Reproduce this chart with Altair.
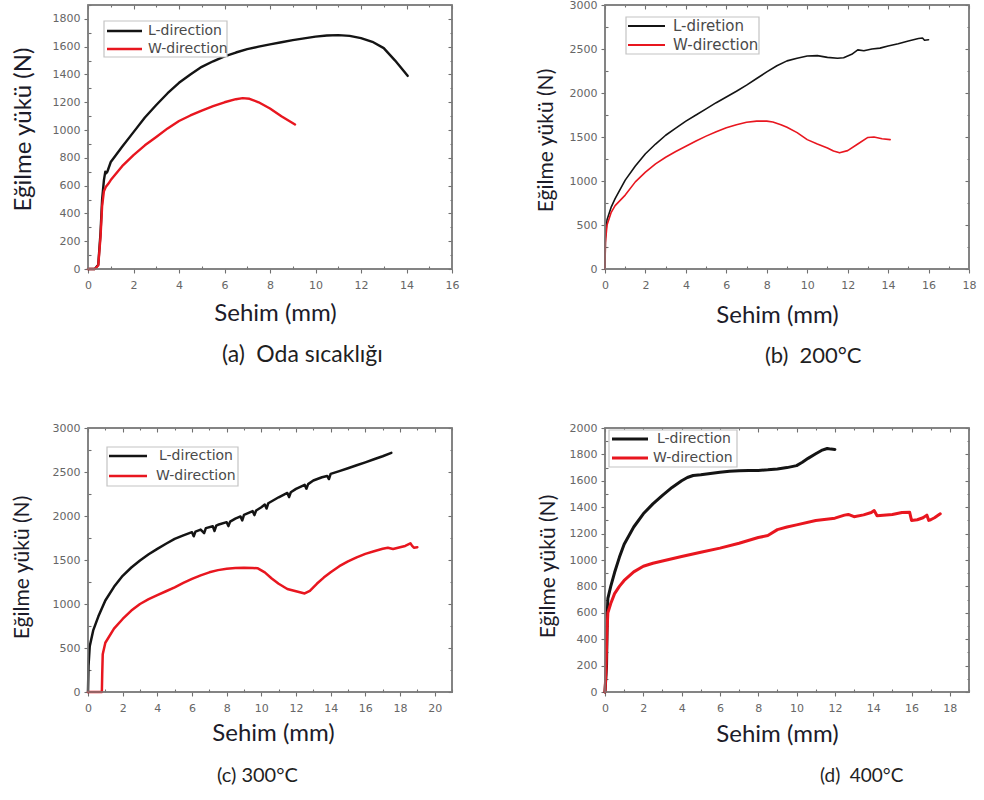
import altair as alt
import pandas as pd

# ---------------- data ----------------
# (a) Oda sıcaklığı
a_L_x = [0, 0.3, 0.45, 0.55, 0.62, 0.7, 0.76, 0.8, 0.85, 1.0, 1.5, 2, 2.5, 3, 3.5, 4, 4.5, 5, 5.5, 6,
         6.5, 7, 7.5, 8, 8.5, 9, 9.5, 10, 10.5, 11, 11.5, 12, 12.5, 13, 13.5, 14.05]
a_L_y = [0, 0, 30, 260, 500, 640, 700, 690, 700, 770, 880, 985, 1090, 1180, 1265, 1340, 1400, 1455, 1495, 1530,
         1558, 1582, 1600, 1617, 1632, 1647, 1660, 1672, 1680, 1683, 1678, 1662, 1635, 1590, 1500, 1390]
a_W_x = [0, 0.3, 0.45, 0.55, 0.62, 0.7, 0.78, 0.9, 1.0, 1.5, 2, 2.5, 3, 3.5, 4, 4.5, 5, 5.5, 6, 6.5,
         6.8, 7.1, 7.5, 8, 8.5, 9.1]
a_W_y = [0, 0, 25, 230, 450, 560, 590, 615, 640, 740, 820, 890, 950, 1012, 1065, 1105, 1140, 1172, 1200, 1222,
         1230, 1225, 1200, 1155, 1100, 1040]

# (b) 200°C
b_L_x = [0, 0.02, 0.1, 0.3, 0.5, 1, 1.5, 2, 2.5, 3, 3.5, 4, 4.5, 5, 5.5, 6, 6.5, 7, 7.5, 8,
         8.5, 9, 9.5, 10, 10.5, 11, 11.5, 11.8, 12.2, 12.5, 12.8, 13.2, 13.6, 14, 14.5, 15, 15.5, 15.7, 15.8, 16.0]
b_L_y = [0, 350, 560, 700, 800, 1010, 1170, 1310, 1420, 1520, 1600, 1680, 1750, 1820, 1890, 1955, 2020, 2090, 2165, 2240,
         2310, 2365, 2395, 2420, 2425, 2405, 2395, 2400, 2440, 2490, 2480, 2500, 2510, 2535, 2560, 2590, 2620, 2625, 2600, 2605]
b_W_x = [0, 0.02, 0.1, 0.3, 0.5, 1, 1.5, 2, 2.5, 3, 3.5, 4, 4.5, 5, 5.5, 6, 6.5, 7, 7.5, 8,
         8.3, 8.7, 9, 9.5, 10, 10.5, 11, 11.3, 11.6, 12, 12.5, 13, 13.3, 13.7, 14.1]
b_W_y = [0, 300, 500, 640, 720, 840, 990, 1100, 1195, 1270, 1335, 1395, 1455, 1510, 1560, 1605, 1640, 1668, 1680, 1680,
         1670, 1640, 1610, 1550, 1470, 1420, 1375, 1340, 1320, 1345, 1420, 1495, 1500, 1480, 1470]

# (c) 300°C
c_L_x = [0, 0.03, 0.1, 0.3, 0.6, 1, 1.5, 2, 2.5, 3, 3.5, 4, 4.5, 5, 5.5, 6, 6.1, 6.2, 6.5, 6.7,
         6.8, 7.2, 7.3, 7.4, 7.5, 8, 8.1, 8.2, 8.5, 8.8, 8.9, 9, 9.5, 9.6, 9.7, 10, 10.2, 10.3, 10.4, 11,
         11.5, 11.6, 11.7, 12, 12.5, 12.6, 12.7, 13, 13.5, 13.8, 13.9, 14, 14.5, 15, 15.5, 16, 16.5, 17, 17.5]
c_L_y = [0, 300, 520, 700, 860, 1040, 1195, 1320, 1415, 1495, 1565, 1627, 1685, 1740, 1780, 1816, 1770, 1822, 1845, 1805,
         1862, 1883, 1830, 1890, 1900, 1930, 1885, 1936, 1970, 1995, 1950, 2013, 2055, 2010, 2063, 2100, 2130, 2085, 2145, 2213,
         2262, 2215, 2270, 2308, 2355, 2310, 2362, 2403, 2440, 2455, 2420, 2478, 2510, 2543, 2577, 2610, 2645, 2679, 2717]
c_W_x = [0, 0.8, 0.82, 0.85, 1, 1.5, 2, 2.5, 3, 3.5, 4, 4.5, 5, 5.5, 6, 6.5, 7, 7.5, 8, 8.5,
         9, 9.5, 9.8, 10.2, 10.6, 11, 11.5, 12, 12.5, 12.8, 13.2, 13.6, 14, 14.5, 15, 15.5, 16, 16.5, 17, 17.3,
         17.6, 18, 18.3, 18.6, 18.7, 18.8, 19.0]
c_W_y = [0, 0, 200, 430, 560, 720, 830, 925, 1000, 1055, 1100, 1145, 1190, 1240, 1285, 1325, 1360, 1385, 1400, 1408,
         1412, 1410, 1405, 1360, 1290, 1230, 1170, 1145, 1120, 1150, 1230, 1300, 1360, 1430, 1485, 1530, 1570, 1600, 1627, 1640,
         1625, 1645, 1660, 1690, 1660, 1640, 1645]

# (d) 400°C
d_L_x = [0, 0.08, 0.12, 0.15, 0.3, 0.5, 0.75, 1, 1.5, 2, 2.5, 3, 3.5, 4, 4.3, 4.6, 5, 5.5, 6, 6.5,
         7, 7.5, 8, 8.5, 9, 9.5, 10, 10.3, 10.6, 11, 11.3, 11.6, 11.8, 12.0]
d_L_y = [0, 200, 600, 710, 800, 905, 1020, 1120, 1250, 1350, 1425, 1490, 1550, 1600, 1625, 1640, 1645, 1655, 1665, 1672,
         1677, 1678, 1678, 1683, 1690, 1700, 1715, 1740, 1770, 1805, 1830, 1845, 1840, 1838]
d_W_x = [0, 0.05, 0.1, 0.15, 0.3, 0.5, 0.75, 1, 1.5, 2, 2.5, 3, 4, 5, 6, 7, 8, 8.5, 9, 9.5,
         10, 11, 12, 12.5, 12.7, 13, 13.5, 13.9, 14.05, 14.2, 15, 15.5, 15.9, 16.0, 16.3, 16.6, 16.8, 16.9, 17.0, 17.2,
         17.5]
d_W_y = [0, 150, 450, 600, 670, 745, 800, 845, 910, 953, 975, 992, 1026, 1059, 1090, 1127, 1170, 1185, 1230, 1250,
         1266, 1299, 1317, 1340, 1345, 1328, 1342, 1360, 1375, 1335, 1345, 1360, 1362, 1300, 1305, 1320, 1340, 1300, 1305, 1320,
         1350]

captions = ["(a)\u2002Oda sıcaklığı", "(b)\u2002200°C", "(c) 300°C", "(d)\u2002400°C"]
caption_size = [23, 22, 20, 19]
legend_labels = [["L-direction", "W-direction"], ["L-diretion", "W-direction"],
                 ["L-direction", "W-direction"], ["L-direction", "W-direction"]]
x_max = [16, 18, 21, 19]
y_max = [1900, 3000, 3000, 2000]
y_step = [200, 500, 500, 200]
y_top_tick = [1800, 3000, 3000, 2000]
x_top_tick = [16, 18, 20, 18]

# ---------------- styling ----------------
W, H = 364, 264
GRAY = "#7c7c7c"
TFONT = "Lato"
NFONT = "DejaVu Sans"
SERIES = ["L", "W"]
COLORS = ["#141414", "#e8161f"]

panels = [
    dict(lx=a_L_x, ly=a_L_y, wx=a_W_x, wy=a_W_y, sw=2.4,
         ytx=-65, yty=124, ytfs=24, xtx=187, xty=44,
         box=(16, 16, 139, 52), rows=(26, 44), rule=(19, 54), tx=(60, 60), lfs=14,
         cap_dx=134, cap_off=19),
    dict(lx=b_L_x, ly=b_L_y, wx=b_W_x, wy=b_W_y, sw=1.6,
         ytx=-59, yty=135, ytfs=21, xtx=172, xty=46,
         box=(21, 12, 154, 49), rows=(21, 40), rule=(23, 60), tx=(68, 68), lfs=15,
         cap_dx=160, cap_off=19),
    dict(lx=c_L_x, ly=c_L_y, wx=c_W_x, wy=c_W_y, sw=2.5,
         ytx=-66, yty=139, ytfs=21, xtx=185, xty=41,
         box=(19, 19, 150, 58), rows=(28, 48), rule=(21, 59), tx=(71, 68), lfs=14,
         cap_dx=129, cap_off=21),
    dict(lx=d_L_x, ly=d_L_y, wx=d_W_x, wy=d_W_y, sw=3.0,
         ytx=-57, yty=138, ytfs=21, xtx=172, xty=42,
         box=(4, 2, 132, 39), rows=(11, 30), rule=(7, 43), tx=(52, 48), lfs=14,
         cap_dx=215, cap_off=21),
]


def rng(start, stop, step):
    out = []
    v = start
    while v <= stop + 1e-9:
        out.append(round(v, 6))
        v += step
    return out


def make_panel(i, p):
    df = pd.DataFrame({
        "Sehim": p["lx"] + p["wx"],
        "Yuk": p["ly"] + p["wy"],
        "Seri": ["L"] * len(p["lx"]) + ["W"] * len(p["wx"]),
        "ord": list(range(len(p["lx"]))) + list(range(len(p["wx"]))),
    })
    xs = alt.Scale(domain=[0, x_max[i]], nice=False, zero=False)
    ys = alt.Scale(domain=[0, y_max[i]], nice=False, zero=False)
    cs = alt.Scale(domain=SERIES, range=COLORS)
    x_major = rng(0, x_top_tick[i], 2)
    x_minor = [v for v in rng(0, x_max[i], 1) if v not in x_major]
    y_major = rng(0, y_top_tick[i], y_step[i])
    y_minor = [v for v in rng(0, y_max[i], y_step[i] / 2) if v not in y_major]

    base = alt.Chart(df)
    main = base.mark_line(strokeWidth=p["sw"], strokeJoin="round", strokeCap="round").encode(
        x=alt.X("Sehim:Q", scale=xs,
                axis=alt.Axis(orient="bottom", values=x_major, format="d", title="Sehim (mm)",
                              tickSize=4, labelPadding=6, labelFlush=False,
                              titleX=p["xtx"], titleY=p["xty"], titleBaseline="middle")),
        y=alt.Y("Yuk:Q", scale=ys,
                axis=alt.Axis(orient="left", values=y_major, format="d", title="Eğilme yükü (N)",
                              tickSize=4, labelPadding=4, labelFlush=False,
                              titleFontSize=p["ytfs"],
                              titleX=p["ytx"], titleY=p["yty"], titleBaseline="middle")),
        color=alt.Color("Seri:N", scale=cs, legend=None),
        order=alt.Order("ord:Q"),
    )

    def ghost(xa, ya):
        return base.mark_line(opacity=0).encode(
            x=alt.X("Sehim:Q", scale=xs, axis=xa),
            y=alt.Y("Yuk:Q", scale=ys, axis=ya),
            detail="Seri:N",
        )

    def tick_axis(orient, values, size, offset):
        return alt.Axis(orient=orient, values=values, labels=False, title=None,
                        tickSize=size, offset=offset, domain=False, grid=False)

    g1 = ghost(tick_axis("bottom", x_minor, 3, -3), tick_axis("left", y_minor, 3, -3))
    g2 = ghost(tick_axis("top", x_major, 4, -4), tick_axis("right", y_major, 4, -4))
    g3 = ghost(tick_axis("top", x_minor, 2, -2), tick_axis("right", y_minor, 2, -2))

    one = pd.DataFrame({"k": [0]})
    frame = alt.Chart(one).mark_rect(filled=False, stroke=GRAY, strokeWidth=1.5).encode(
        x=alt.value(0), x2=alt.value(W), y=alt.value(0), y2=alt.value(H))

    # legend drawn inside the frame
    leg_df = pd.DataFrame({"Seri": SERIES, "label": legend_labels[i]})
    bx0, by0, bx1, by1 = p["box"]
    box = alt.Chart(one).mark_rect(
        fill="white", stroke="#c4c4c4", strokeWidth=1.2).encode(
        x=alt.value(bx0), x2=alt.value(bx1), y=alt.value(by0), y2=alt.value(by1))
    leg_layers = [box]
    for r, s in enumerate(SERIES):
        sub = alt.Chart(leg_df).transform_filter(alt.datum.Seri == s)
        leg_layers.append(sub.mark_rule(strokeWidth=max(p["sw"], 2.0)).encode(
            x=alt.value(p["rule"][0]), x2=alt.value(p["rule"][1]),
            y=alt.value(p["rows"][r]),
            color=alt.Color("Seri:N", scale=cs, legend=None)))
        leg_layers.append(sub.mark_text(align="left", baseline="middle", font=NFONT,
                                        fontSize=p["lfs"], color="#4a4a4a").encode(
            x=alt.value(p["tx"][r]), y=alt.value(p["rows"][r]), text="label:N"))

    return alt.layer(main, g1, g2, g3, frame, *leg_layers).resolve_axis(
        x="independent", y="independent").properties(
        width=W, height=H,
        title=alt.TitleParams(captions[i], orient="bottom", anchor="start", frame="group",
                              dx=p["cap_dx"], offset=p["cap_off"], font=TFONT, fontSize=caption_size[i],
                              fontWeight="normal", color="#1f1f1f"))


charts = [make_panel(i, p) for i, p in enumerate(panels)]

chart = alt.concat(*charts, columns=2, spacing={"row": 159, "column": 153}, bounds="flush").properties(
    padding={"left": 10, "top": -2, "right": 5, "bottom": 5}
).configure_view(
    stroke=GRAY, strokeWidth=1.5
).configure_axis(
    grid=False, domain=False, tickColor="#707070", tickWidth=1.1,
    labelColor="#666666", labelFont=NFONT, labelFontSize=11,
    titleFont=TFONT, titleFontSize=24, titleFontWeight="normal", titleColor="#1c1c2a"
).configure_title(
    font=TFONT
)

chart.save("out.html", embed_options={"renderer": "svg", "actions": False})
